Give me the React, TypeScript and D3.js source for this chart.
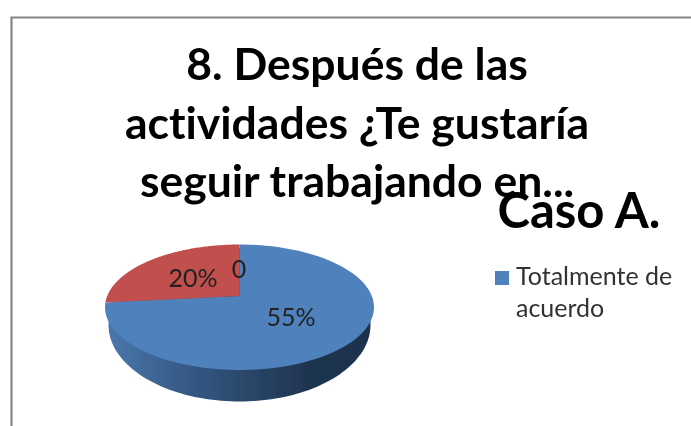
import React from "react";
import * as d3 from "d3";

const categories = ["Totalmente de acuerdo", "De acuerdo", "En desacuerdo"];
const values = [55, 20, 0];
const labels = ["55%", "20%", "0"];
const titleLines = ["8. Después de las", "actividades ¿Te gustaría", "seguir trabajando en..."];
const overlayTitle = "Caso A.";
const legendLines = ["Totalmente de", "acuerdo"];
const colors = ["#4f81bd", "#c0504d"];

const W = 691, H = 426;
// projected circle: apex at (cx, ay), front/back perspective
const cx = 239.5, ay = 296, b = 0.179, a = 60.7, c = 132.3;
// lower outline of the disc's side wall
const baseCy = 325, baseRx = 131, baseRy = 76.5;

const project = (theta: number): [number, number] => {
  const u = Math.sin(theta);
  const v = -Math.cos(theta);
  const k = 1 - b * v;
  return [cx + (c * u) / k, ay + (a * v) / k];
};

export default function App() {
  const arcs = d3.pie<number>().sort(null).startAngle(0).endAngle(Math.PI * 2)(values);
  const line = d3.line();
  const wedge = (s: number, e: number) => {
    const pts = d3.range(0, 121).map((i) => project(s + ((e - s) * i) / 120));
    return line([[cx, ay], ...pts])! + "Z";
  };
  const side = line(
    d3.range(0, 180).map((i) => {
      const t = (i / 180) * Math.PI * 2;
      return [cx + baseRx * Math.cos(t), baseCy + baseRy * Math.sin(t)] as [number, number];
    })
  )! + "Z";

  return (
    <svg width={W} height={H} style={{ position: "absolute", left: 0, top: 0, fontVariantLigatures: "none" }} fontFamily="Lato, Carlito, sans-serif">
      <defs>
        <linearGradient id="side" x1="105" x2="374" y1="0" y2="0" gradientUnits="userSpaceOnUse">
          <stop offset="0" stopColor="#4a78ae" />
          <stop offset="0.35" stopColor="#33557f" />
          <stop offset="0.75" stopColor="#1f3550" />
          <stop offset="1" stopColor="#1d324c" />
        </linearGradient>
        <filter id="soft" x="-5%" y="-5%" width="110%" height="110%">
          <feGaussianBlur stdDeviation="0.5" />
        </filter>
      </defs>
      <rect width={W} height={H} fill="#fff" />
      <g filter="url(#soft)">
        <path d={`M11.5 426V17.5H691`} fill="none" stroke="#868686" strokeWidth={2.2} />
        <path d={side} fill="url(#side)" />
        {arcs.filter((d) => d.value > 0).map((d, i) => (
          <path key={categories[i]} d={wedge(d.startAngle, d.endAngle)} fill={colors[i]} />
        ))}
        <g fontWeight={700} textAnchor="middle" fill="#000">
          {titleLines.map((t, i) => (
            <text key={t} x={357} y={80 + i * 58.5} fontSize={44.5}>{t}</text>
          ))}
          <text x={579} y={228} fontSize={49}>{overlayTitle}</text>
        </g>
        <g fontSize={25} fill="#222" textAnchor="middle">
          <text x={291} y={326}>{labels[0]}</text>
          <text x={193} y={287}>{labels[1]}</text>
          <text x={239} y={278}>{labels[2]}</text>
        </g>
        <rect x={495} y={271} width={14} height={14} fill={colors[0]} />
        <g fontSize={25} fill="#333">
          {legendLines.map((t, i) => (
            <text key={t} x={516} y={285 + i * 32}>{t}</text>
          ))}
        </g>
      </g>
    </svg>
  );
}
